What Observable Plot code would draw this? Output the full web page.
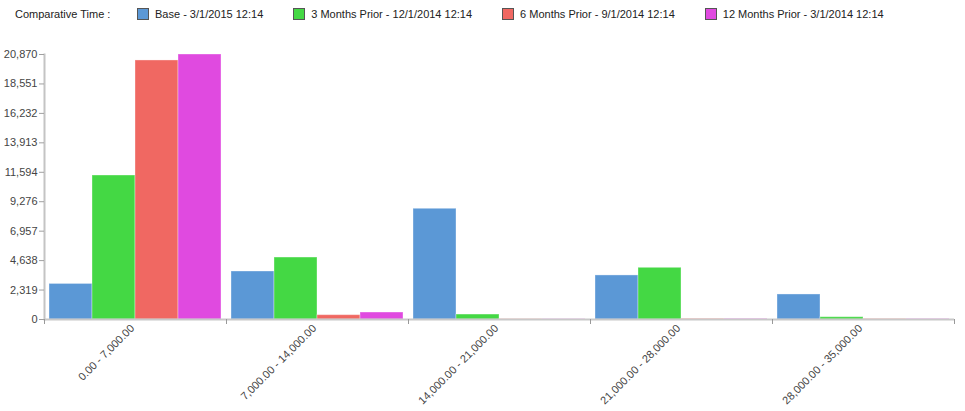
<!DOCTYPE html>
<html><head>
<meta charset="utf-8">
<script src="https://cdn.jsdelivr.net/npm/d3@7"></script>
<script src="https://cdn.jsdelivr.net/npm/@observablehq/plot@0.6"></script>
<style>
body{margin:0;background:#fff;font-family:"Liberation Sans",Arial,sans-serif;}
#legend{position:relative;height:28px;font-size:11px;color:#222;}
#legend .title{position:absolute;left:15px;top:8px;}
#legend .items{position:absolute;left:137px;top:8px;display:flex;gap:30px;}
#legend .item{display:flex;align-items:center;gap:6px;}
#legend .sw{width:10px;height:10px;border:1px solid #555;}
#chart svg{display:block;font-family:"Liberation Sans",Arial,sans-serif;}
</style>
</head><body>
<div id="legend"></div>
<div id="chart"></div>
<script>
const groups = ["0.00 - 7,000.00", "7,000.00 - 14,000.00", "14,000.00 - 21,000.00", "21,000.00 - 28,000.00", "28,000.00 - 35,000.00"];
const series = ["Base - 3/1/2015 12:14", "3 Months Prior - 12/1/2014 12:14", "6 Months Prior - 9/1/2014 12:14", "12 Months Prior - 3/1/2014 12:14"];
const baseValues = [2800, 3780, 8720, 3470, 1970];
const prior3Values = [11340, 4880, 390, 4070, 180];
const prior6Values = [20400, 340, 20, 40, 30];
const prior12Values = [20870, 550, 20, 40, 30];
const yTicks = [0, 2319, 4638, 6957, 9276, 11594, 13913, 16232, 18551, 20870];
const colors = ["#5b98d6", "#44d844", "#f06862", "#e04ae0"];
const legendTitle = "Comparative Time :";

const seriesValues = [baseValues, prior3Values, prior6Values, prior12Values];
const data = [];
groups.forEach((g, i) => series.forEach((s, j) => data.push({group: g, series: s, value: seriesValues[j][i]})));

// legend
const leg = document.getElementById("legend");
leg.innerHTML = `<div class="title">${legendTitle}</div><div class="items">` +
  series.map((s, j) => `<div class="item"><span class="sw" style="background:${colors[j]}"></span><span>${s}</span></div>`).join("") + `</div>`;

const W = 965, H = 383, ML = 44, MR = 11;
const half = (W - ML - MR) / groups.length / 2;

const chart = Plot.plot({
  width: W, height: H,
  marginTop: 26, marginBottom: 92, marginLeft: ML, marginRight: MR,
  style: {fontSize: "11px", color: "#444", background: "#fff"},
  fx: {domain: groups, padding: 0, label: null},
  x: {domain: series, paddingInner: 0, paddingOuter: 0.092, axis: null},
  y: {domain: [0, 20870], label: null},
  color: {domain: series, range: colors},
  marks: [
    Plot.barY(data, {fx: "group", x: "series", y: "value", fill: "series", stroke: "#fff", strokeOpacity: 0.35, strokeWidth: 1}),
    Plot.frame({anchor: "left", facetAnchor: "left", stroke: "#c4c4c4", strokeWidth: 2}),
    Plot.ruleY([0], {stroke: "#c8c8c8", strokeWidth: 2}),
    Plot.axisY({ticks: yTicks, tickFormat: d3.format(","), tickSize: 5, tickPadding: 2, stroke: "#a0a0a0", fill: "#444", label: null}),
    Plot.axisFx({anchor: "bottom", tickSize: 0, tickRotate: -45, tickPadding: 7, dx: -3, fill: "#444", label: null}),
    Plot.axisFx({anchor: "bottom", tickSize: 5, text: null, dx: -half, stroke: "#999", label: null}),
    Plot.axisFx({anchor: "bottom", tickSize: 5, text: null, dx: half, stroke: "#999", label: null})
  ]
});
document.getElementById("chart").appendChild(chart);
</script>
</body></html>
